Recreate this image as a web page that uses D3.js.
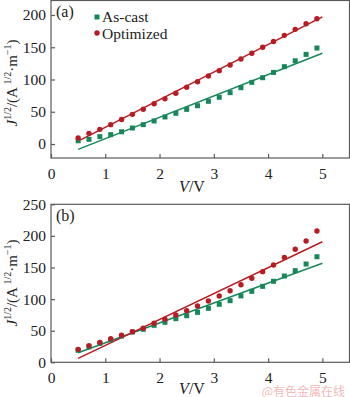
<!DOCTYPE html>
<html><head><meta charset="utf-8">
<script src="https://cdn.jsdelivr.net/npm/d3@7"></script>
<style>body{margin:0;background:#fff}svg{display:block}</style>
</head><body>
<svg id="c" width="350" height="397"></svg>
<script>
const voltages = [0.5,0.7,0.9,1.1,1.3,1.5,1.7,1.9,2.1,2.3,2.5,2.7,2.9,3.1,3.3,3.5,3.7,3.9,4.1,4.3,4.5,4.7,4.9];
const aCast = [5,7.2,11.4,14.5,19,24.8,30,35.7,41.9,47.6,53.7,59.4,66.2,72.4,79.6,87.3,95.6,102.8,111,119.9,129,139,148.8];
const aOpt = [9.3,16.5,22.7,30,38,46,54,62.5,70,78.6,88,96.6,105.4,113.7,122.5,131.8,140.6,150,159,168.5,177.8,186.5,194.3];
const aCastFit = [[0.5,-8.3],[5,140.6]];
const aOptFit = [[0.5,4.5],[5,197]];
const bCast = [19,24.5,30,35.5,41.5,48,52.2,58.5,63.3,69,73.7,79,85.4,91.8,97.5,105,112.3,120.2,128.2,136.5,145,155.5,167];
const bOpt = [20.5,26.3,31.6,37.4,42.7,48.4,53.8,61.7,68,74.8,81.7,89,97,105,113.3,122.8,132.9,143.4,154,166,178.8,192,207.8];
const bCastFit = [[0.5,15],[5,156.6]];
const bOptFit = [[0.5,6.3],[5,190.8]];
const xTicks = [0,1,2,3,4,5];
const aYTicks = [0,50,100,150,200];
const bYTicks = [0,50,100,150,200,250];
const seriesNames = ["As-cast","Optimized"];

const GREEN = "#17875a", RED = "#b81c22", FRAME = "#5a5a5a";
const FONT = "'Liberation Serif','Times New Roman',serif";
const svg = d3.select("#c");

function panel(cfg){
  const x = d3.scaleLinear().domain([0,5.5]).range([51,349.5]);
  const y = d3.scaleLinear().domain(cfg.yDomain).range(cfg.yRange);
  const g = svg.append("g");
  const [x0,x1] = x.range(), [yb,yt] = y.range();
  g.append("rect").attr("x",x0).attr("y",yt).attr("width",x1-x0).attr("height",yb-yt)
    .attr("fill","none").attr("stroke",FRAME).attr("stroke-width",1.2);
  const xa = g.append("g").attr("transform",`translate(0,${yb})`)
    .call(d3.axisBottom(x).tickValues(xTicks).tickSize(-4).tickPadding(10).tickFormat(d3.format("d")));
  xa.select(".domain").remove();
  xa.selectAll("line").attr("stroke",FRAME).attr("stroke-width",1.2);
  xa.selectAll("text").attr("font-family",FONT).attr("font-size",15.5).attr("fill","#222");
  const ya = g.append("g").attr("transform",`translate(${x0},0)`)
    .call(d3.axisLeft(y).tickValues(cfg.yTicks).tickSize(-4).tickPadding(5));
  ya.select(".domain").remove();
  ya.selectAll("line").attr("stroke",FRAME).attr("stroke-width",1.2);
  ya.selectAll("text").attr("font-family",FONT).attr("font-size",15.5).attr("fill","#222");
  const xt = g.append("text").attr("x",192).attr("y",cfg.xTitleY).attr("text-anchor","middle")
    .attr("font-family",FONT).attr("font-size",16).attr("fill","#222");
  xt.append("tspan").attr("font-style","italic").text("V");
  xt.append("tspan").text("/V");
  const yt2 = g.append("text").attr("transform",`translate(17,${cfg.yTitleC}) rotate(-90)`)
    .attr("text-anchor","middle").attr("font-family",FONT).attr("font-size",15).attr("fill","#222");
  yt2.append("tspan").attr("font-style","italic").text("J");
  yt2.append("tspan").attr("font-size",10).attr("dy",-6).text("1/2");
  yt2.append("tspan").attr("dy",6).text("/(A");
  yt2.append("tspan").attr("font-size",10).attr("dy",-6).text(" 1/2");
  yt2.append("tspan").attr("dy",6).text("·m");
  yt2.append("tspan").attr("font-size",10).attr("dy",-6).text("−1");
  yt2.append("tspan").attr("dy",6).text(")");
  g.append("text").attr("x",56).attr("y",yt+cfg.labelDy).attr("font-family",FONT).attr("font-size",16)
    .attr("fill","#222").text(cfg.label);
  const line = d3.line().x(d=>x(d[0])).y(d=>y(d[1]));
  g.append("path").attr("d",line(cfg.castFit)).attr("stroke",GREEN).attr("stroke-width",1.5).attr("fill","none");
  g.append("path").attr("d",line(cfg.optFit)).attr("stroke",RED).attr("stroke-width",1.5).attr("fill","none");
  g.selectAll(".sq").data(cfg.cast).join("rect")
    .attr("x",(d,i)=>x(voltages[i])-2.5).attr("y",d=>y(d)-2.5).attr("width",5).attr("height",5).attr("fill",GREEN);
  g.selectAll(".ci").data(cfg.opt).join("circle")
    .attr("cx",(d,i)=>x(voltages[i])).attr("cy",d=>y(d)).attr("r",2.7).attr("fill",RED);
  return g;
}

panel({yDomain:[-21.7,222.5], yRange:[158,0.5], yTicks:aYTicks, cast:aCast, opt:aOpt,
  castFit:aCastFit, optFit:aOptFit, xTitleY:192, yTitleC:83, label:"(a)", labelDy:16});
panel({yDomain:[0,250], yRange:[362.3,204.3], yTicks:bYTicks, cast:bCast, opt:bOpt,
  castFit:bCastFit, optFit:bOptFit, xTitleY:394, yTitleC:283, label:"(b)", labelDy:17});

const leg = svg.append("g");
leg.append("rect").attr("x",94.5).attr("y",14.5).attr("width",5).attr("height",5).attr("fill",GREEN);
leg.append("circle").attr("cx",97).attr("cy",33).attr("r",2.7).attr("fill",RED);
leg.selectAll("text").data(seriesNames).join("text")
  .attr("x",102).attr("y",(d,i)=>22+i*16.5).attr("font-family",FONT).attr("font-size",15.5).attr("fill","#222").text(d=>d);

svg.append("text").attr("x",345).attr("y",396).attr("text-anchor","end")
  .attr("font-family","'Noto Sans CJK SC',sans-serif").attr("font-size",12).attr("fill","#f3b9bb").text("@有色金属在线");
</script>
</body></html>
